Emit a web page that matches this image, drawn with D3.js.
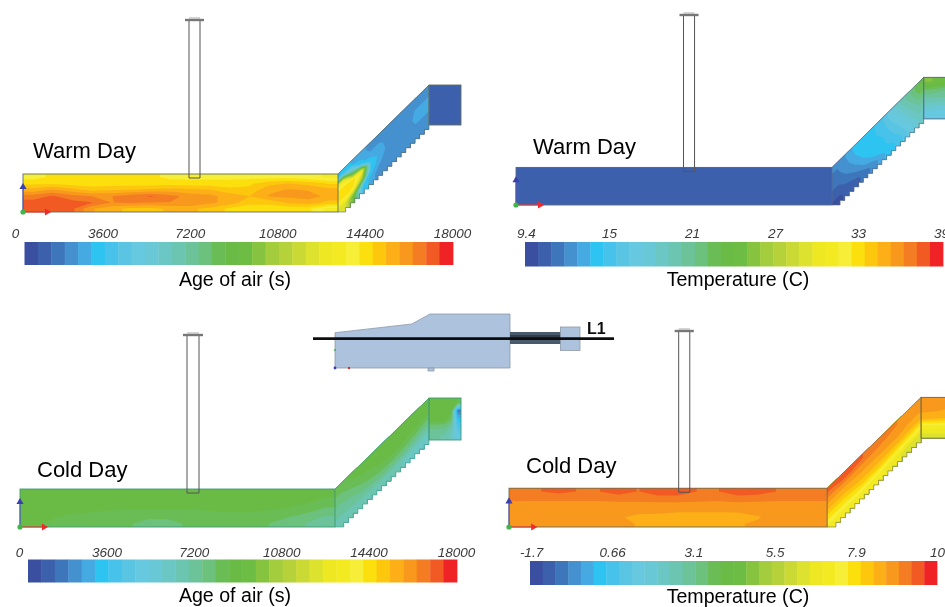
<!DOCTYPE html>
<html><head><meta charset="utf-8">
<script src="https://cdn.jsdelivr.net/npm/d3@7"></script>
<style>html,body{margin:0;padding:0;background:#fff;overflow:hidden}svg{display:block}text{font-family:"Liberation Sans",Arial,sans-serif}</style>
</head><body><svg id="c" width="945" height="607"></svg>
<script>
// Colour bar cells, read left to right
const barColors = ["#3a4fa1","#3c60ad","#3e76bb","#4590cf","#45aae1","#2fc4f2","#46c2ea","#5ac4e3","#66c9df","#69c8d6","#6bc7c4","#6cc5b0","#6cc39a","#6cc17c","#6bbd55","#69bb45","#6dbd44","#86c440","#a4cd3c","#b6d23a","#cbd935","#dde22d","#eee820","#f3ea22","#f7ee37","#fbe011","#fdc70f","#fcaf17","#f8981d","#f47c22","#f15a24","#ef2127"];
const ageTicks = ["0","3600","7200","10800","14400","18000"];
const warmTempTicks = ["9.4","15","21","27","33","39"];
const coldTempTicks = ["-1.7","0.66","3.1","5.5","7.9","10"];

// Estimated field values: age of air (s), warm day
const warmAgeMain = [
 [13800,14200,14300,14200,14200,14200,14200,13900,13900,13900,13900,13900,13800,13800,13700,13400],
 [14500,14500,14300,14300,14300,14300,14300,14400,14300,14300,14300,14500,15000,15200,15000,14600],
 [15400,15800,15400,15000,15100,15200,15300,15400,15300,15200,14800,14800,15600,15800,15700,15400],
 [16600,16950,16500,16300,16300,16600,16950,16500,16100,15900,15500,15200,15800,15900,16000,15600],
 [17100,17200,17100,16900,16300,16400,16300,16300,16300,15900,15500,14800,14800,15300,15500,15000],
 [17000,17100,17000,15800,15400,15000,15000,15300,15300,15000,14500,14300,14300,14200,14200,13300]];
const warmAgeDuct = [
 [3000,2800,2600,2000,2000,1900,1700,1700,1700,1700],
 [13000,7000,3000,2400,2400,2000,1900,1900,2300,2300],
 [14500,14500,13000,3500,2500,2100,2000,2000,2400,2400],
 [14300,14000,10000,3200,2300,2000,1950,1950,2200,2200],
 [12000,9000,3500,2400,2000,1900,1800,1800,1800,1700]];
const warmAgeBlock = [
 [900,800,800],[900,800,800],[900,800,800],[1000,800,800],[1100,800,800]];

// Temperature (C), warm day
const warmTempMain = [
 [10.6,10.6,10.6,10.6,10.6,10.6,10.6,10.6],
 [10.6,10.6,10.6,10.6,10.6,10.6,10.6,10.6],
 [10.6,10.6,10.6,10.6,10.6,10.6,10.6,10.6],
 [10.6,10.6,10.6,10.6,10.6,10.6,10.6,10.6]];
const warmTempDuct = [
 [12.3,13.2,14.4,14.8,14.9,15.8,17.8,19.8,21.5,23.5],
 [12,12.8,14,14.7,14.8,15.5,17,18.5,20.5,22.5],
 [11.5,12.3,13.2,14.4,14.7,15.0,16.2,17.5,19.5,21],
 [10.9,11.5,12.2,13.4,14.4,14.8,15.6,16.8,18.5,20],
 [10.2,10.6,11,11.8,12.8,14,14.8,15.8,17.5,19]];
const warmTempBlock = [
 [25.5,25,24.5],[22.5,22,21.5],[20.5,20.5,20.5],[19,18.5,18.5],[17,17,17]];

// Age of air (s), cold day
const coldAgeMain = [
 [8900,8900,8900,8900,8900,8900,8900,8900,8900,8900,8900,8900,8900,8900,8800,8600],
 [8900,8900,8900,8900,8900,8900,8900,8900,8900,8900,8900,8900,8900,8800,8700,8400],
 [8800,8800,8800,8800,8800,8800,8800,8800,8800,8800,8800,8800,8700,8600,8400,8000],
 [8700,8700,8600,8500,8400,8300,8300,8300,8300,8400,8500,8500,8400,8300,8000,7700],
 [8600,8500,8300,8200,8000,8000,7900,7900,8000,8000,8100,8100,8000,7900,7600,7200],
 [8500,8400,8200,8000,7900,7900,7800,7800,7900,7900,8000,8000,7900,7700,7300,6800]];
const coldAgeDuct = [
 [8200,8500,8800,8800,8900,8900,8900,8900,8900,8900],
 [7700,8000,8300,8500,8700,8800,8800,8800,8800,8700],
 [7300,7500,7800,8100,8300,8400,8400,8300,8100,7800],
 [6900,7000,7200,7400,7600,7700,7600,7400,7100,6800],
 [6500,6500,6500,6500,6500,6400,6300,6100,5900,5700]];
const coldAgeBlock = [
 [8900,8900,8900,8900,8400],
 [8900,8900,8900,8500,1500],
 [8800,8800,8700,7800,3000],
 [7400,7400,7400,6600,4000],
 [7000,6800,6600,6000,4800]];

// Temperature (C), cold day
const coldTempMain = [
 [9.25,9.25,9.4,9.25,9.25,9.5,9.25,9.55,9.55,9.25,9.25,9.55,9.5,9.25,9.25,9.25],
 [9.0,9.0,9.0,9.0,9.0,9.05,9.05,9.1,9.1,9.05,9.0,9.1,9.05,9.0,9.0,9.0],
 [8.8,8.8,8.8,8.8,8.8,8.8,8.8,8.8,8.8,8.8,8.8,8.8,8.8,8.8,8.8,8.8],
 [8.7,8.7,8.7,8.7,8.7,8.7,8.7,8.7,8.6,8.6,8.6,8.6,8.7,8.7,8.7,8.7],
 [8.7,8.7,8.7,8.7,8.7,8.6,8.4,8.35,8.3,8.3,8.3,8.35,8.5,8.7,8.7,8.6],
 [8.7,8.7,8.7,8.7,8.7,8.7,8.5,8.4,8.4,8.4,8.4,8.5,8.6,8.7,8.7,8.6]];
const coldTempDuct = [
 [9.3,9.5,9.5,9.3,9.2,9.1,9.0,8.9,8.8,8.8],
 [8.7,8.7,8.7,8.7,8.7,8.7,8.7,8.7,8.6,8.6],
 [8.2,8.2,8.3,8.4,8.4,8.4,8.4,8.4,8.3,8.3],
 [7.6,7.6,7.7,7.8,7.8,7.8,7.7,7.6,7.5,7.4],
 [7,7,7,7,6.9,6.8,6.6,6.4,6.2,6.1]];
const coldTempBlock = [
 [8.6,8.7,8.7],[8.6,8.6,8.5],[8.4,8.3,8.2],[7,7,6.9],[6.3,6.3,6.3]];

const panels = [
 {title:"Warm Day",label:"Age of air (s)",ticks:ageTicks,lo:0,hi:18000,main:warmAgeMain,duct:warmAgeDuct,block:warmAgeBlock,
  x0:23,kx:1,capY:20,botY:212,edge:"#5f6f60",bar:[24.5,453,242,265],tick:[15,452,238],tx:33,ty:158,lx:235,ly:286,
  chimU:[166,177],blockU:406,blockV:[-89,-49],ductFoot:318},
 {title:"Warm Day",label:"Temperature (C)",ticks:warmTempTicks,lo:9.4,hi:39.4,main:warmTempMain,duct:warmTempDuct,block:warmTempBlock,
  x0:516,kx:1.003,capY:15,botY:205,edge:"#5a6a8a",bar:[525,943,242,266.5],tick:[526,941,238],tx:533,ty:154,lx:738,ly:286,
  chimU:[167,178],blockU:406.5,blockV:[-91,-49],ductFoot:318.5},
 {title:"Cold Day",label:"Age of air (s)",ticks:ageTicks,lo:0,hi:18000,main:coldAgeMain,duct:coldAgeDuct,block:coldAgeBlock,
  x0:20,kx:1,capY:335,botY:527,edge:"#3f9a78",bar:[28,457,559.5,582.5],tick:[19,456,557],tx:37,ty:477,lx:235,ly:602,
  chimU:[167,179],blockU:409,blockV:[-91,-49],ductFoot:319},
 {title:"Cold Day",label:"Temperature (C)",ticks:coldTempTicks,lo:-1.7,hi:10,main:coldTempMain,duct:coldTempDuct,block:coldTempBlock,
  x0:509,kx:1.01,capY:331,botY:527,edge:"#6e6a50",bar:[530,937,561,585],tick:[531,937,557],tx:526,ty:473,lx:738,ly:603,
  chimU:[168,179],blockU:408,blockV:[-89,-49],ductFoot:319}
];

// Model geometry in model units (origin at top-left of the long section)
const mainLen=315, mainH=38, blockW=32, stairCount=19, chimTop=-154, chimBot=4;

const svg=d3.select("#c");
const defs=svg.append("defs");
defs.append("filter").attr("id","soft").attr("x","-2%").attr("y","-2%").attr("width","104%").attr("height","104%")
  .append("feGaussianBlur").attr("stdDeviation",0.55);
const root=svg.append("g").attr("filter","url(#soft)");
const line=d3.line();
const lerp=(a,b,t)=>a+(b-a)*t;
// repeat the edge cells so that contour bands run through the clip boundary
const padGrid=g=>{const r=g.map(a=>[a[0],...a,a[a.length-1]]);return [r[0],...r,r[r.length-1]];};

panels.forEach((p,pi)=>{
  const x=d3.scaleLinear().domain([0,438]).range([p.x0,p.x0+438*p.kx]);
  const y=d3.scaleLinear().domain([-154,38]).range([p.capY,p.botY]);
  const g=root.append("g");
  const step=(p.hi-p.lo)/barColors.length;
  const thresholds=d3.range(barColors.length).map(i=>p.lo+i*step);
  const ductTop=[[mainLen,0],[p.blockU,p.blockV[0]]], ductBot=[[p.ductFoot,mainH],[p.blockU,p.blockV[1]]];

  const stairs=[];
  for(let i=0;i<stairCount;i++){
    const a=i/stairCount,b=(i+1)/stairCount;
    const ux0=lerp(ductBot[1][0],ductBot[0][0],a),vy0=lerp(ductBot[1][1],ductBot[0][1],a);
    const ux1=lerp(ductBot[1][0],ductBot[0][0],b),vy1=lerp(ductBot[1][1],ductBot[0][1],b);
    stairs.push([ux0,vy0],[ux0,vy1],[ux1,vy1]);
  }
  const ductOutline=[ductTop[0],ductTop[1],...stairs,[ductTop[0][0],mainH]].map(d=>[x(d[0]),y(d[1])]);
  const addClip=(id,pts)=>defs.append("clipPath").attr("id",id).append("path").attr("d",line(pts)+"Z");
  const rectPts=(u0,u1,v0,v1)=>[[u0,v0],[u1,v0],[u1,v1],[u0,v1]].map(d=>[x(d[0]),y(d[1])]);
  addClip("duct"+pi,ductOutline);
  addClip("main"+pi,rectPts(0,mainLen,0,mainH));
  addClip("block"+pi,rectPts(p.blockU,p.blockU+blockW,p.blockV[0],p.blockV[1]));

  const drawField=(grid,map,clip)=>{
    const m=grid.length,n=grid[0].length,pg=padGrid(grid);
    const layer=g.append("g").attr("clip-path","url(#"+clip+")");
    const path=d3.geoPath(d3.geoTransform({point(c,r){const q=map((c-1)/n,(r-1)/m);this.stream.point(q[0],q[1]);}}));
    const cs=d3.contours().size([n+2,m+2]).smooth(true).thresholds(thresholds)(pg.flat());
    layer.selectAll("path").data(cs.filter(c=>c.coordinates.length)).join("path")
      .attr("d",path)
      .attr("fill",c=>barColors[thresholds.indexOf(c.value)]);
  };
  drawField(p.main,(s,t)=>[x(s*mainLen),y(t*mainH)],"main"+pi);
  drawField(p.duct,(s,t)=>{
    const topU=lerp(ductTop[0][0],ductTop[1][0],s),topV=lerp(ductTop[0][1],ductTop[1][1],s);
    const botU=lerp(ductBot[0][0],ductBot[1][0],s),botV=lerp(ductBot[0][1],ductBot[1][1],s);
    return [x(lerp(topU,botU,t)),y(lerp(topV,botV,t))];
  },"duct"+pi);
  drawField(p.block,(s,t)=>[x(p.blockU+s*blockW),y(lerp(p.blockV[0],p.blockV[1],t))],"block"+pi);

  // outlines
  const outl=g.append("g").attr("fill","none").attr("stroke",p.edge).attr("stroke-width",0.9);
  outl.append("rect").attr("x",x(0)).attr("y",y(0)).attr("width",x(mainLen)-x(0)).attr("height",y(mainH)-y(0));
  outl.append("path").attr("d",line(ductOutline)).attr("stroke-width",0.6);
  outl.append("rect").attr("x",x(p.blockU)).attr("y",y(p.blockV[0])).attr("width",x(p.blockU+blockW)-x(p.blockU)).attr("height",y(p.blockV[1])-y(p.blockV[0]));

  // chimney
  const [c0,c1]=p.chimU;
  g.append("path").attr("fill","none").attr("stroke","#555").attr("stroke-width",1)
    .attr("d",line([[c0,chimTop],[c0,chimBot],[c1,chimBot],[c1,chimTop]].map(d=>[x(d[0]),y(d[1])])));
  g.append("line").attr("x1",x(c0-4)).attr("x2",x(c1+4)).attr("y1",y(chimTop)).attr("y2",y(chimTop)).attr("stroke","#777").attr("stroke-width",2.4);
  g.append("line").attr("x1",x(c0)).attr("x2",x(c1)).attr("y1",y(chimTop)-2).attr("y2",y(chimTop)-2).attr("stroke","#aaa").attr("stroke-width",1);

  // axis triad
  const t=g.append("g");
  t.append("line").attr("x1",x(0)).attr("x2",x(0)).attr("y1",y(mainH)).attr("y2",y(14)).attr("stroke","#4a55c0").attr("stroke-width",1);
  t.append("line").attr("x1",x(0)).attr("x2",x(23)).attr("y1",y(mainH)).attr("y2",y(mainH)).attr("stroke","#f03030").attr("stroke-width",1);
  t.append("path").attr("d",d3.symbol(d3.symbolTriangle,22)()).attr("transform",`translate(${x(0)},${y(13)})`).attr("fill","#3b3fb0");
  t.append("path").attr("d",d3.symbol(d3.symbolTriangle,22)()).attr("transform",`translate(${x(24)},${y(mainH)}) rotate(90)`).attr("fill","#f02a2a");
  t.append("circle").attr("cx",x(0)).attr("cy",y(mainH)).attr("r",2.6).attr("fill","#3fb54a");

  // colour bar
  const bx=d3.scaleBand().domain(d3.range(barColors.length)).range([p.bar[0],p.bar[1]]).paddingInner(0);
  g.append("g").selectAll("rect").data(barColors).join("rect")
    .attr("x",(d,i)=>bx(i)).attr("y",p.bar[2]).attr("width",bx.bandwidth()+0.4).attr("height",p.bar[3]-p.bar[2]).attr("fill",d=>d);

  // tick labels
  const tickScale=d3.scalePoint().domain(p.ticks).range([p.tick[0],p.tick[1]]);
  const ax=g.append("g").attr("transform",`translate(0,${p.tick[2]})`).call(d3.axisTop(tickScale).tickSize(0).tickPadding(0));
  ax.select(".domain").remove();
  ax.selectAll("text").attr("font-family",'"Liberation Sans",Arial,sans-serif').attr("font-size",13.5).attr("font-style","italic").attr("fill","#3a3a3a").attr("dy",0);

  g.append("text").attr("x",p.tx).attr("y",p.ty).attr("font-size",22).attr("fill","#000").text(p.title);
  g.append("text").attr("x",p.lx).attr("y",p.ly).attr("text-anchor","middle").attr("font-size",19.6).attr("fill","#000").text(p.label);
});

// Central key sketch
const kx=d3.scaleLinear().domain([0,100]).range([335,435]);
const ky=d3.scaleLinear().domain([0,100]).range([314,414]);
const keyBody=[[0,18.7],[76.7,10],[95,0],[175,0],[175,54],[0,54]];
const keyFoot=[[93,54],[99,54],[99,57],[93,57]];
const key=root.append("g");
const kp=a=>line(a.map(d=>[kx(d[0]),ky(d[1])]))+"Z";
key.append("path").attr("d",kp(keyBody)).attr("fill","#adc2dc").attr("stroke","#8e99a8").attr("stroke-width",0.8);
key.append("path").attr("d",kp(keyFoot)).attr("fill","#adc2dc").attr("stroke","#8e99a8").attr("stroke-width",0.8);
key.append("rect").attr("x",kx(175)).attr("y",ky(18)).attr("width",kx(226)-kx(175)).attr("height",ky(30)-ky(18)).attr("fill","#4a5a6c");
key.append("rect").attr("x",kx(175)).attr("y",ky(21)).attr("width",kx(226)-kx(175)).attr("height",ky(25)-ky(21)).attr("fill","#33404e");
key.append("rect").attr("x",kx(225.5)).attr("y",ky(13)).attr("width",kx(245)-kx(225.5)).attr("height",ky(36.5)-ky(13)).attr("fill","#adc2dc").attr("stroke","#8e99a8").attr("stroke-width",0.8);
key.append("line").attr("x1",kx(-22)).attr("x2",kx(279)).attr("y1",ky(24.7)).attr("y2",ky(24.7)).attr("stroke","#0a0a0a").attr("stroke-width",2.8);
key.append("text").attr("x",kx(252)).attr("y",ky(19.5)).attr("font-size",16).attr("font-weight","bold").attr("fill","#111").text("L1");
key.append("circle").attr("cx",kx(0)).attr("cy",ky(54)).attr("r",1.4).attr("fill","#3040b0");
key.append("circle").attr("cx",kx(14)).attr("cy",ky(54)).attr("r",1.2).attr("fill","#e03030");
key.append("circle").attr("cx",kx(0)).attr("cy",ky(36)).attr("r",1).attr("fill","#40b050");
</script></body></html>
